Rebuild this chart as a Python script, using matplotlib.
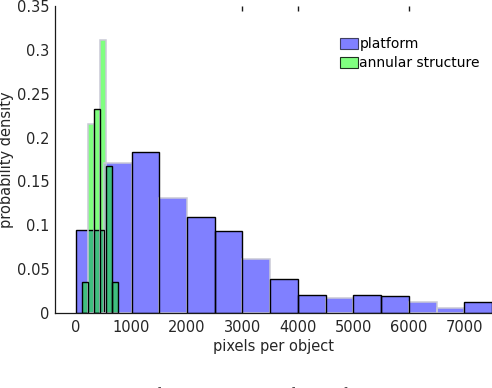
import numpy as np
import matplotlib
matplotlib.use("Agg")
import matplotlib.pyplot as plt
from matplotlib.patches import Patch

# platform histogram (probability per 500 px bin)
platform_edges = [0, 500, 1000, 1500, 2000, 2500, 3000, 3500, 4000,
                  4500, 5000, 5500, 6000, 6500, 7000, 7500]
platform_prob = [0.095, 0.171, 0.183, 0.131, 0.110, 0.093, 0.061, 0.039,
                 0.021, 0.017, 0.020, 0.019, 0.013, 0.006, 0.013]

# annular structure histogram
annular_edges = [108, 215, 322, 430, 537, 645, 752]
annular_prob = [0.035, 0.216, 0.233, 0.311, 0.168, 0.035]

x_ticks = [0, 1000, 2000, 3000, 4000, 5000, 6000, 7000]
y_ticks = [0, 0.05, 0.1, 0.15, 0.2, 0.25, 0.3, 0.35]
y_tick_labels = ["0", "0.05", "0.1", "0.15", "0.2", "0.25", "0.3", "0.35"]
top_ticks = [3000, 4000, 6000]

# edge look of the exported figure: some outlines black, some pale
platform_black = [True, False, True, False, True, True, False, True,
                  True, False, True, True, False, False, True]
annular_black = [True, False, True, False, True, True]

BLUE = (0.5, 0.5, 1.0)
GREEN = (0.0, 1.0, 0.0)
PALE = "#c9c9d6"
TXT = "#262626"

plt.rcParams["font.family"] = ["DejaVu Sans"]

fig = plt.figure(figsize=(4.92, 3.88), dpi=100)
ax = fig.add_axes([55 / 492, 1 - 313 / 388, 437 / 492, 307 / 388])


def draw_hist(edges, probs, face, alpha, black_flags, z):
    left = np.array(edges[:-1])
    width = np.diff(edges)
    ax.bar(left, probs, width=width, align="edge", color=face,
           alpha=alpha, linewidth=0, zorder=z)
    for l, w, p, blk in zip(left, width, probs, black_flags):
        ax.bar(l, p, width=w, align="edge", facecolor="none",
               edgecolor="black" if blk else PALE,
               linewidth=1.0 if blk else 1.1,
               zorder=z + 3 if blk else z + 2)


draw_hist(platform_edges, platform_prob, BLUE, 1.0, platform_black, 1)
draw_hist(annular_edges, annular_prob, GREEN, 0.5, annular_black, 2)

ax.set_xlim(-380, 7500)
ax.set_ylim(0, 0.35)
ax.set_xticks(x_ticks)
ax.set_yticks(y_ticks)
ax.set_yticklabels(y_tick_labels)
ax.tick_params(length=0, labelsize=10.5, colors=TXT, pad=4)
ax.tick_params(axis="x", pad=5)

for s in ["top", "right"]:
    ax.spines[s].set_visible(False)
for s in ["left", "bottom"]:
    ax.spines[s].set_color("#1a1a1a")
    ax.spines[s].set_linewidth(0.9)
    ax.spines[s].set_zorder(10)

# stray top ticks left over in the exported figure
ax.vlines(top_ticks, 0.983, 1.0, transform=ax.get_xaxis_transform(),
          colors="#1a1a1a", linewidth=1.0, clip_on=False, zorder=10)

ax.set_xlabel("pixels per object", fontsize=10.5, color=TXT, labelpad=3)
ax.set_ylabel("probability density", fontsize=10.5, color=TXT, labelpad=2)

handles = [Patch(facecolor=BLUE, edgecolor="#404060", linewidth=0.8),
           Patch(facecolor=(0.5, 1.0, 0.5), edgecolor="#203020", linewidth=0.8)]
ax.legend(handles, ["platform", "annular structure"], loc="upper left",
          bbox_to_anchor=(0.652, 0.898), frameon=False, fontsize=10,
          handlelength=1.3, handleheight=0.8, handletextpad=0.1,
          labelspacing=0.35, borderpad=0, borderaxespad=0)

# caption of the paper, cut off at the bottom edge
fig.text(0.0, 0.003, "Fig. 2.  Distribution of pixels per object for platform and annular",
         fontsize=13, family=["Liberation Serif"], va="top", color=TXT)

fig.savefig("out.png", dpi=100)
